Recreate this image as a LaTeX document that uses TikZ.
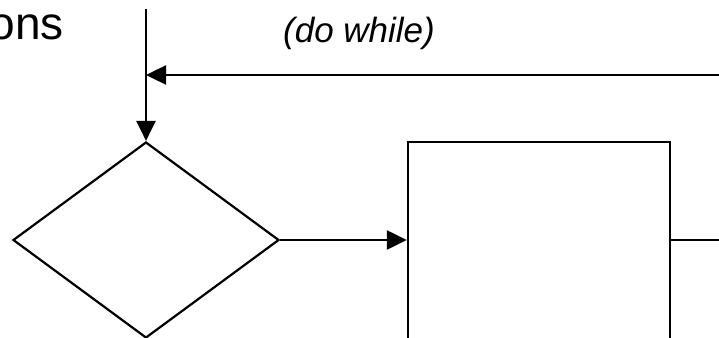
\documentclass[tikz,border=0pt]{standalone}
\usepackage{fontspec}
\setmainfont{Liberation Sans}
\usetikzlibrary{arrows.meta,shapes.geometric}
\begin{document}
\begin{tikzpicture}[x=1pt,y=-1pt,
  line/.style={line width=2.4pt},
  arr/.style={line, -{Triangle[length=20pt,width=19pt]}},
  dec/.style={draw, line width=2.2pt, diamond, inner sep=0pt, minimum width=266pt, minimum height=196pt},
  box/.style={draw, line width=2.4pt, rectangle, inner sep=0pt, minimum width=262pt, minimum height=278pt}]
\useasboundingbox (0,0) rectangle (719,337);
\clip (0,0) rectangle (719,337);
\node[anchor=base east, font=\fontsize{46}{46}\selectfont, inner sep=0pt] (t1) at (64,40) {ons};
\node[anchor=base, font=\fontsize{35}{35}\selectfont\itshape, inner sep=0pt] (t2) at (359,43) {(do while)};
\node[dec] (d) at (146,240) {};
\node[box] (r) at (539,281) {};
\coordinate (top) at (146,9);
\coordinate (join) at (146,75);
\coordinate (back) at (725,75);
\coordinate (out) at (725,240);
\draw[arr] (top) -- (d.north);
\draw[arr] (back) -- (join);
\draw[arr] (d.east) -- (d.east -| r.west);
\draw[line] (d.east -| r.east) -- (out);
\end{tikzpicture}
\end{document}
